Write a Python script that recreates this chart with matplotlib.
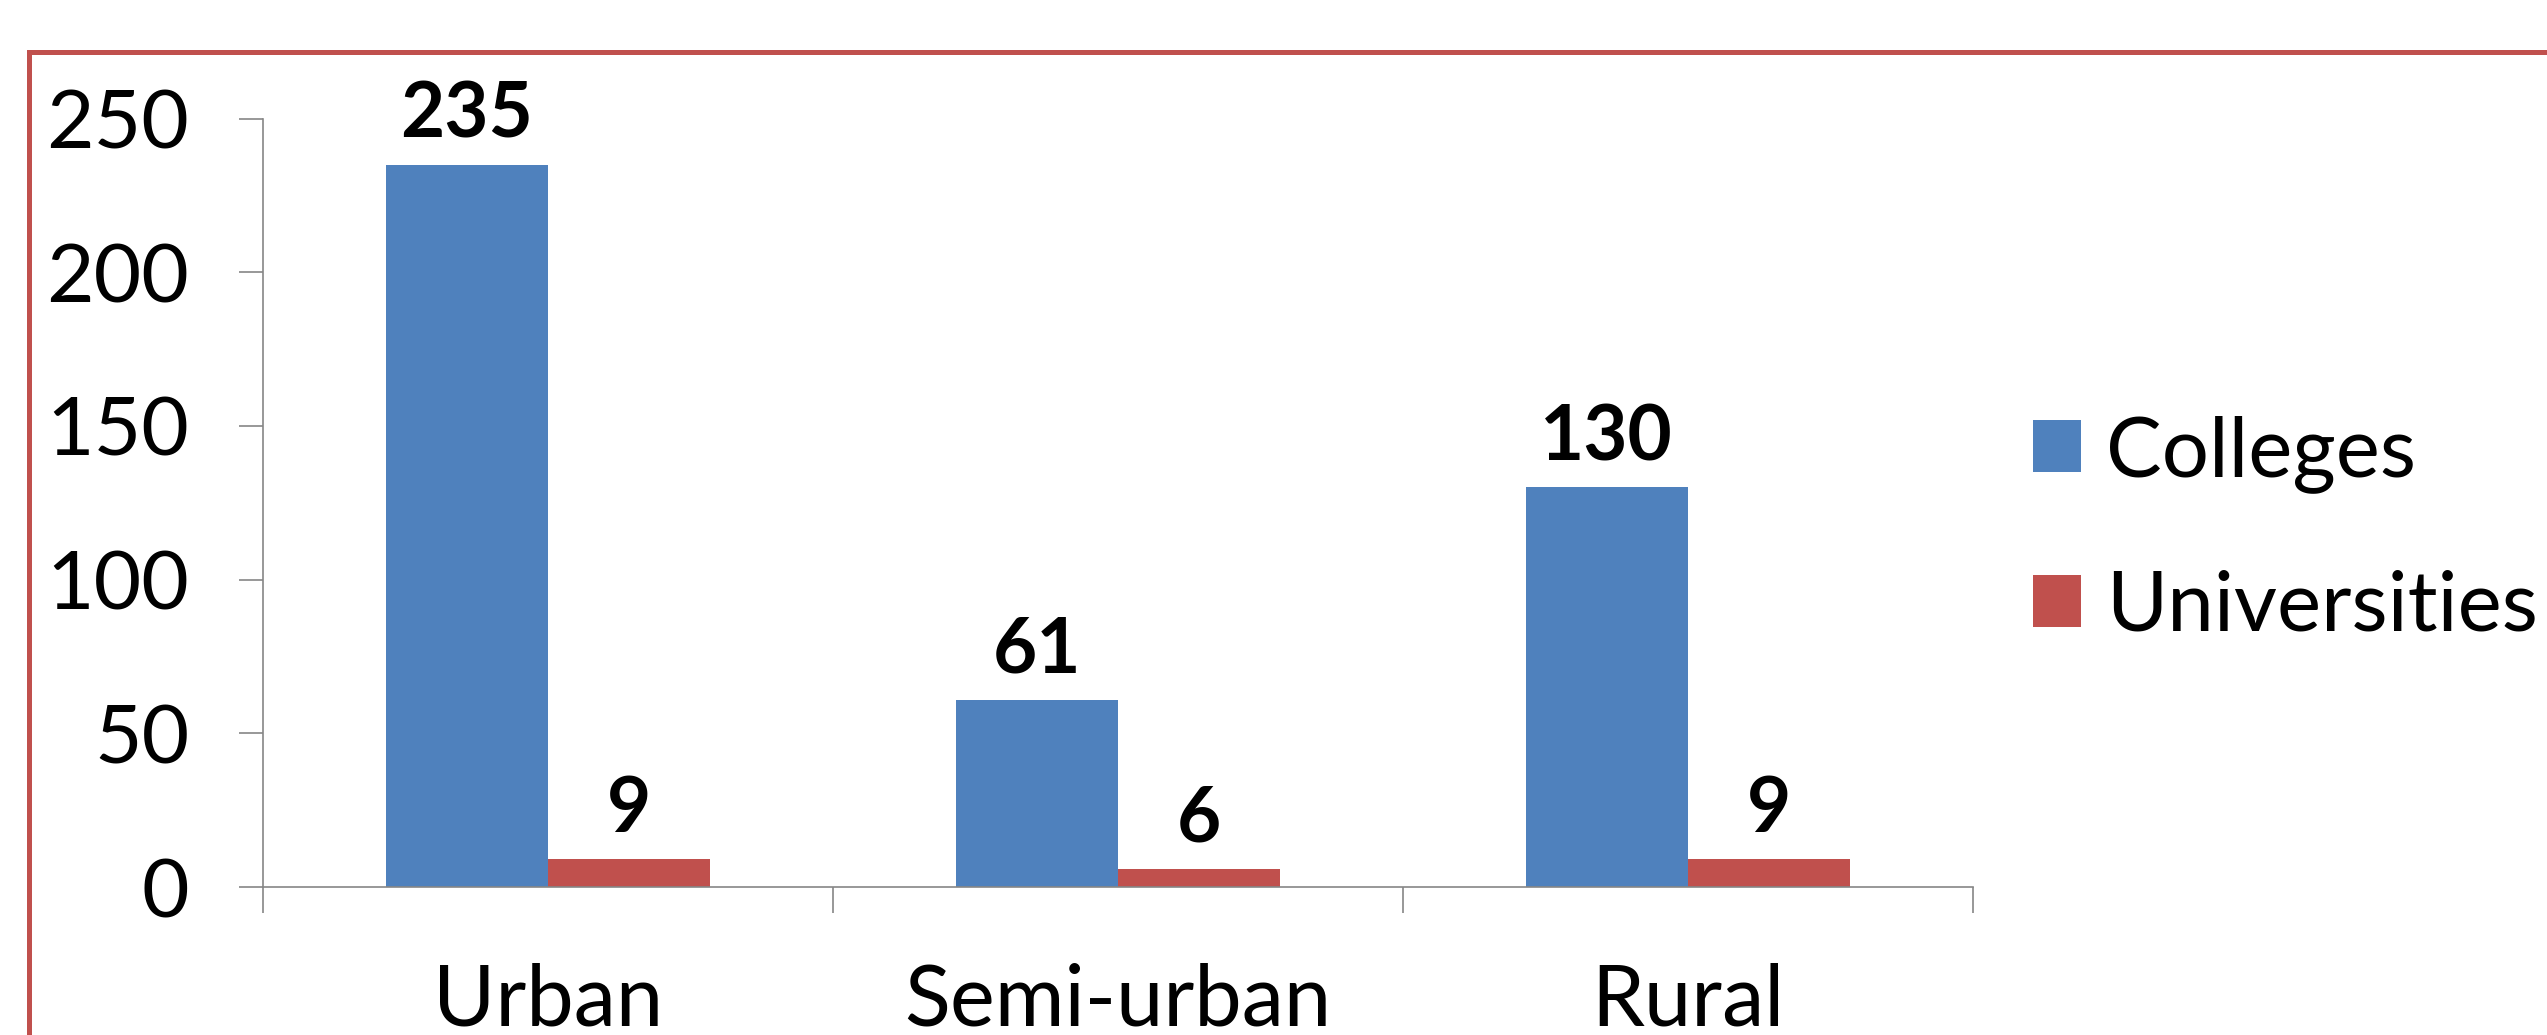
import matplotlib
matplotlib.use("Agg")
import matplotlib.pyplot as plt
import matplotlib.patches as mpatches
import numpy as np

categories = ["Urban", "Semi-urban", "Rural"]
series_names = ["Colleges", "Universities"]
colleges = [235, 61, 130]
universities = [9, 6, 9]
yticks = [0, 50, 100, 150, 200, 250]

plt.rcParams['font.family'] = ['Lato', 'DejaVu Sans']

W, H = 2547, 1035
fig = plt.figure(figsize=(W / 100, H / 100), dpi=100)
ax = fig.add_axes([263 / W, 1 - 887 / H, (1973 - 263) / W, (887 - 118.6) / H])

x = np.arange(len(categories))
bw = 0.285
b1 = ax.bar(x - bw / 2, colleges, bw, color="#4F81BD", label=series_names[0])
b2 = ax.bar(x + bw / 2, universities, bw, color="#C0504D", label=series_names[1])

for bars in (b1, b2):
    ax.bar_label(bars, padding=10, fontsize=55, fontweight='bold')

ax.set_xlim(-0.5, len(categories) - 0.5)
ax.set_ylim(0, 250)
ax.set_yticks(yticks)
ax.set_yticklabels([str(v) for v in yticks])
ax.set_xticks(x)
ax.set_xticklabels(categories)
ax.set_xticks(np.arange(len(categories) + 1) - 0.5, minor=True)

ax.tick_params(axis='y', length=17, width=1.2, color='#868686', labelsize=59, pad=36)
ax.tick_params(axis='x', which='major', length=0, labelsize=61, pad=54)
ax.tick_params(axis='x', which='minor', length=19, width=1.2, color='#868686')

for s in ['top', 'right']:
    ax.spines[s].set_visible(False)
for s in ['left', 'bottom']:
    ax.spines[s].set_color('#868686')
    ax.spines[s].set_linewidth(1.2)

leg = fig.legend(loc='center left', bbox_to_anchor=(2033 / W, 1 - 530 / H),
                 frameon=False, fontsize=60, handlelength=0.58, handleheight=0.58,
                 handletextpad=0.3, labelspacing=0.92, borderpad=0, borderaxespad=0)

border = mpatches.Rectangle((29 / W, -0.1), 1.2, (1 - 52 / H) + 0.1,
                            transform=fig.transFigure, fill=False,
                            edgecolor='#C0504D', linewidth=3.6, clip_on=False)
fig.patches.append(border)

fig.savefig("out.png", dpi=100)
